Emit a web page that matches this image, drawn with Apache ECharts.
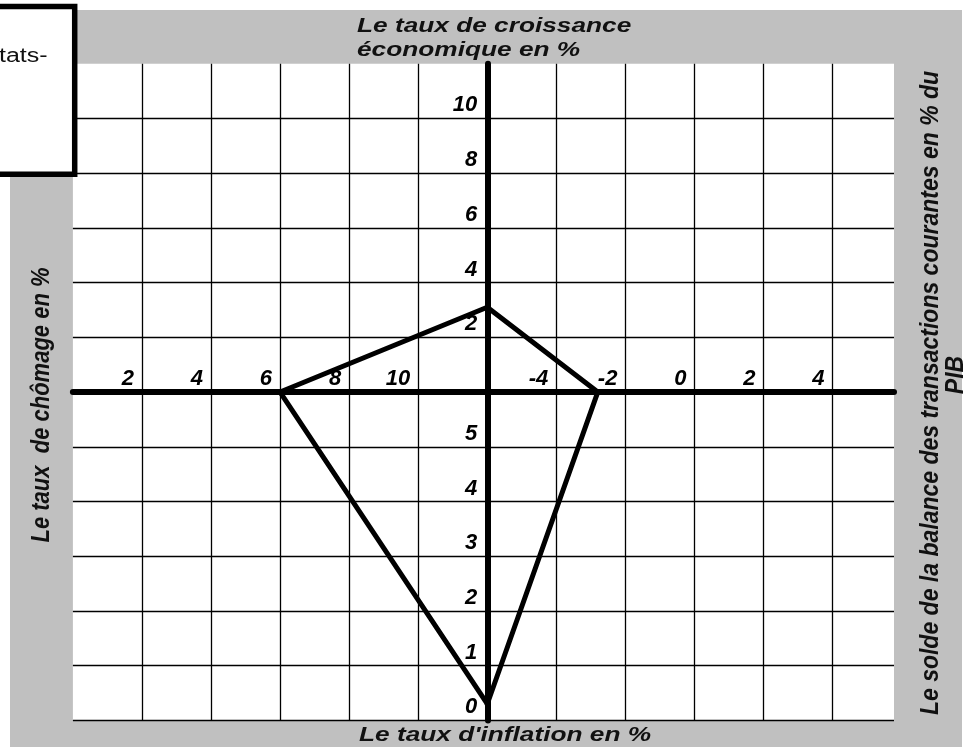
<!DOCTYPE html>
<html>
<head>
<meta charset="utf-8">
<script src="https://cdn.jsdelivr.net/npm/echarts@6/dist/echarts.min.js"></script>
<style>
  html, body { margin: 0; padding: 0; background: #fff; }
  #main { width: 966px; height: 747px; }
</style>
</head>
<body>
<div id="main"></div>
<script>
const chomage = 6;        // taux de chômage en %
const croissance = 3.1;   // taux de croissance économique en %
const solde = -2.8;       // solde de la balance des transactions courantes en % du PIB
const inflation = 0.3;    // taux d'inflation en %

// graduations écrites sur chaque demi-axe
const chomageTicks = [2, 4, 6, 8, 10];
const soldeTicks = [-4, -2, 0, 2, 4];
const croissanceTicks = [2, 4, 6, 8, 10];
const inflationTicks = [0, 1, 2, 3, 4, 5];

// valeur de chaque axe au centre du carré
const chomageCentre = 12;
const soldeCentre = -6;
const croissanceCentre = 0;
const inflationCentre = 6;

(function () {
    const myChart = echarts.init(document.getElementById('main'));

    // zone du quadrillage
    const gLeft = 72.9, gTop = 63.7, gWidth = 821.1, gHeight = 656.7;
    const unitX = 34.53;   // px par unité sur les axes horizontaux
    const centreX = gLeft + chomageCentre * unitX;
    const centreY = gTop + gHeight / 2;
    const xMaxChomage = gWidth / unitX;

    const numFont = {
        color: '#000',
        fontFamily: 'Liberation Sans',
        fontStyle: 'italic',
        fontWeight: 'bold',
        fontSize: 22
    };
    const titleFont = 'italic bold 21px "Liberation Sans"';
    const gridLine = { show: true, showMinLine: false, showMaxLine: false, lineStyle: { color: '#000', width: 1.3 } };
    const thick = { color: '#000', width: 6 };

    function only(list) {
        return function (v) { return list.indexOf(v) >= 0 ? String(v) : ''; };
    }

    const xLabel = {
        inside: true, margin: 2, align: 'right', padding: [0, 8, 0, 0]
    };
    const yLabel = {
        margin: 10, verticalAlign: 'bottom', padding: [0, 0, 2, 0]
    };

    // les quatre côtés du quadrilatère, chacun sur sa paire d'axes
    const segments = [
        { xi: 0, yi: 0, data: [[chomage, croissanceCentre], [chomageCentre, croissance]] },
        { xi: 1, yi: 0, data: [[soldeCentre, croissance], [solde, croissanceCentre]] },
        { xi: 1, yi: 1, data: [[solde, inflationCentre], [soldeCentre, inflation]] },
        { xi: 0, yi: 1, data: [[chomageCentre, inflation], [chomage, inflationCentre]] }
    ];

    const option = {
        animation: false,
        grid: {
            left: gLeft, top: gTop, width: gWidth, height: gHeight,
            containLabel: false, outerBoundsMode: 'none'
        },
        xAxis: [
            {
                type: 'value', position: 'bottom', offset: -(gTop + gHeight - centreY),
                min: 0, max: xMaxChomage, interval: 2,
                axisLine: { show: true, onZero: false, lineStyle: thick },
                axisTick: { show: false },
                axisLabel: Object.assign({ formatter: only(chomageTicks) }, xLabel, numFont),
                splitLine: gridLine
            },
            {
                type: 'value', position: 'bottom', offset: -(gTop + gHeight - centreY),
                min: soldeCentre - chomageCentre, max: soldeCentre - chomageCentre + xMaxChomage, interval: 2,
                axisLine: { show: false, onZero: false },
                axisTick: { show: false },
                axisLabel: Object.assign({ formatter: only(soldeTicks) }, xLabel, numFont),
                splitLine: { show: false }
            }
        ],
        yAxis: [
            {
                type: 'value', position: 'left', offset: -(centreX - gLeft),
                min: -12, max: 12, interval: 2,
                axisLine: { show: true, onZero: false, lineStyle: thick },
                axisTick: { show: false },
                axisLabel: Object.assign({ formatter: only(croissanceTicks) }, yLabel, numFont),
                splitLine: { show: true, showMinLine: true, showMaxLine: false, lineStyle: { color: '#000', width: 1.3 } }
            },
            {
                type: 'value', position: 'left', offset: -(centreX - gLeft),
                min: 0, max: 12, interval: 1,
                axisLine: { show: false, onZero: false },
                axisTick: { show: false },
                axisLabel: Object.assign({ formatter: only(inflationTicks) }, yLabel, numFont),
                splitLine: { show: false }
            }
        ],
        graphic: [
            { type: 'rect', z: -10, silent: true, shape: { x: 10, y: 10, width: 952, height: 737 }, style: { fill: '#c0c0c0' } },
            { type: 'rect', z: -9, silent: true, shape: { x: gLeft, y: gTop, width: gWidth, height: gHeight }, style: { fill: '#fff' } },
            {
                type: 'text', z: 50, x: 357, y: 14, scaleX: 1.25,
                style: { text: 'Le taux de croissance\néconomique en %', font: titleFont, fill: '#111', textAlign: 'left', textVerticalAlign: 'top', lineHeight: 24 }
            },
            {
                type: 'text', z: 50, x: 359, y: 735, scaleX: 1.25,
                style: { text: "Le taux d'inflation en %", font: titleFont, fill: '#111', textAlign: 'left', textVerticalAlign: 'middle' }
            },
            {
                type: 'text', z: 50, x: 42, y: 405, rotation: Math.PI / 2, scaleY: 1.15,
                style: { text: 'Le taux  de chômage en %', font: 'italic bold 22px "Liberation Sans"', fill: '#111', textAlign: 'center', textVerticalAlign: 'middle' }
            },
            {
                type: 'text', z: 50, x: 931, y: 393, rotation: Math.PI / 2, scaleY: 1.15,
                style: { text: 'Le solde de la balance des transactions courantes en % du', font: 'italic bold 23px "Liberation Sans"', fill: '#111', textAlign: 'center', textVerticalAlign: 'middle' }
            },
            {
                type: 'text', z: 50, x: 956, y: 375, rotation: Math.PI / 2, scaleY: 1.15,
                style: { text: 'PIB', font: 'italic bold 23px "Liberation Sans"', fill: '#111', textAlign: 'center', textVerticalAlign: 'middle' }
            },
            {
                type: 'rect', z: 100, silent: true,
                shape: { x: -10, y: 6.5, width: 84.7, height: 167.7 },
                style: { fill: '#fff', stroke: '#000', lineWidth: 5.5 }
            },
            {
                type: 'text', z: 101, x: -1, y: 56, scaleX: 1.25,
                style: { text: 'tats-', font: '20px "Liberation Sans"', fill: '#111', textAlign: 'left', textVerticalAlign: 'middle' }
            }
        ],
        series: segments.map(function (s) {
            return {
                type: 'line',
                xAxisIndex: s.xi,
                yAxisIndex: s.yi,
                data: s.data,
                symbol: 'none',
                silent: true,
                z: 5,
                lineStyle: { color: '#000', width: 5, cap: 'round' }
            };
        })
    };

    myChart.setOption(option);

    window.addEventListener('resize', function () {
        myChart.resize();
    });
})();
</script>
</body>
</html>
